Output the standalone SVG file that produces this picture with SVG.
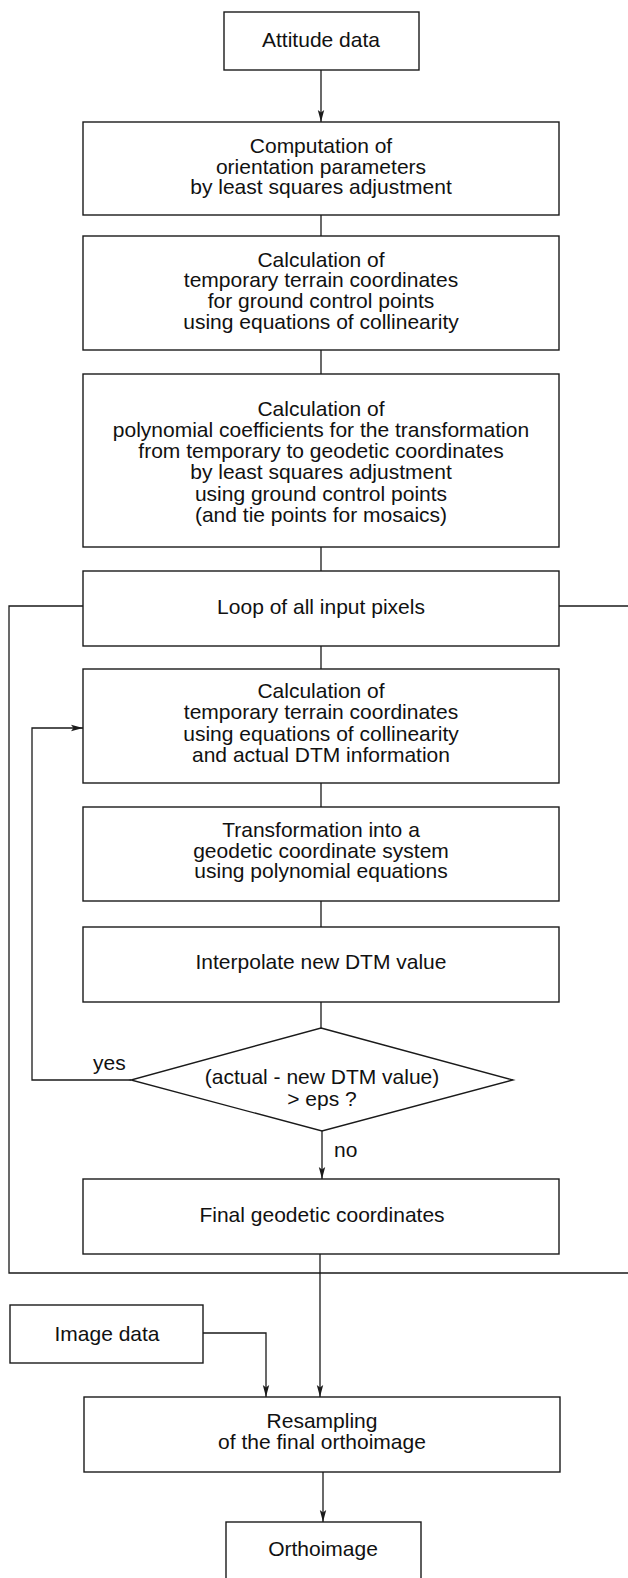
<svg xmlns="http://www.w3.org/2000/svg" width="628" height="1578" viewBox="0 0 628 1578">
  <style>
    .box { fill: #fff; stroke: #1a1a1a; stroke-width: 1.4; }
    .wire { fill: none; stroke: #1a1a1a; stroke-width: 1.3; }
    text { font-family: "Liberation Sans", Arial, sans-serif; font-size: 21px; fill: #111; text-anchor: middle; }
    .lbl { text-anchor: start; }
  </style>
  <defs>
    <marker id="arrow" viewBox="0 0 12 8" refX="12" refY="4" markerWidth="12" markerHeight="8" markerUnits="userSpaceOnUse" orient="auto">
      <path d="M0,0.8 L12,4 L0,7.2 L2.5,4 Z" fill="#1a1a1a"/>
    </marker>
  </defs>
  <rect width="628" height="1578" fill="#fff"/>

  <!-- connectors -->
  <g id="connectors">
    <line class="wire" x1="321" y1="70" x2="321" y2="122" marker-end="url(#arrow)"/>
    <line class="wire" x1="321" y1="215" x2="321" y2="236"/>
    <line class="wire" x1="321" y1="350" x2="321" y2="374"/>
    <line class="wire" x1="321" y1="547" x2="321" y2="571"/>
    <line class="wire" x1="321" y1="646" x2="321" y2="669"/>
    <line class="wire" x1="321" y1="783" x2="321" y2="807"/>
    <line class="wire" x1="321" y1="901" x2="321" y2="927"/>
    <line class="wire" x1="321" y1="1002" x2="321" y2="1028"/>
    <!-- outer pixel loop -->
    <polyline class="wire" points="83,606 9,606 9,1273 629,1273"/>
    <line class="wire" x1="559" y1="606" x2="629" y2="606"/>
    <!-- iteration loop (yes branch) -->
    <polyline class="wire" points="131,1080 32,1080 32,728 83,728" marker-end="url(#arrow)"/>
    <!-- no branch -->
    <line class="wire" x1="322" y1="1131" x2="322" y2="1179" marker-end="url(#arrow)"/>
    <line class="wire" x1="320" y1="1254" x2="320" y2="1397" marker-end="url(#arrow)"/>
    <polyline class="wire" points="203,1333 266,1333 266,1397" marker-end="url(#arrow)"/>
    <line class="wire" x1="323" y1="1472" x2="323" y2="1522" marker-end="url(#arrow)"/>
    <text class="lbl" x="93" y="1070">yes</text>
    <text class="lbl" x="334" y="1157">no</text>
  </g>

  <g id="attitude-data">
    <rect class="box" x="224" y="12" width="195" height="58"/>
    <text x="321" y="47">Attitude data</text>
  </g>

  <g id="orientation-parameters">
    <rect class="box" x="83" y="122" width="476" height="93"/>
    <text x="321" y="153">Computation of</text>
    <text x="321" y="174">orientation parameters</text>
    <text x="321" y="194">by least squares adjustment</text>
  </g>

  <g id="gcp-terrain-coordinates">
    <rect class="box" x="83" y="236" width="476" height="114"/>
    <text x="321" y="267">Calculation of</text>
    <text x="321" y="287">temporary terrain coordinates</text>
    <text x="321" y="308">for ground control points</text>
    <text x="321" y="329">using equations of collinearity</text>
  </g>

  <g id="polynomial-coefficients">
    <rect class="box" x="83" y="374" width="476" height="173"/>
    <text x="321" y="416">Calculation of</text>
    <text x="321" y="437">polynomial coefficients for the transformation</text>
    <text x="321" y="458">from temporary to geodetic coordinates</text>
    <text x="321" y="479">by least squares adjustment</text>
    <text x="321" y="501">using ground control points</text>
    <text x="321" y="522">(and tie points for mosaics)</text>
  </g>

  <g id="pixel-loop">
    <rect class="box" x="83" y="571" width="476" height="75"/>
    <text x="321" y="614">Loop of all input pixels</text>
  </g>

  <g id="pixel-terrain-coordinates">
    <rect class="box" x="83" y="669" width="476" height="114"/>
    <text x="321" y="698">Calculation of</text>
    <text x="321" y="719">temporary terrain coordinates</text>
    <text x="321" y="741">using equations of collinearity</text>
    <text x="321" y="762">and actual DTM information</text>
  </g>

  <g id="geodetic-transformation">
    <rect class="box" x="83" y="807" width="476" height="94"/>
    <text x="321" y="837">Transformation into a</text>
    <text x="321" y="858">geodetic coordinate system</text>
    <text x="321" y="878">using polynomial equations</text>
  </g>

  <g id="interpolate-dtm">
    <rect class="box" x="83" y="927" width="476" height="75"/>
    <text x="321" y="969">Interpolate new DTM value</text>
  </g>

  <g id="dtm-check">
    <polygon class="box" points="321,1028 513,1080 322,1131 131,1080"/>
    <text x="322" y="1084">(actual - new DTM value)</text>
    <text x="322" y="1106">&gt; eps ?</text>
  </g>

  <g id="final-coordinates">
    <rect class="box" x="83" y="1179" width="476" height="75"/>
    <text x="322" y="1222">Final geodetic coordinates</text>
  </g>

  <g id="image-data">
    <rect class="box" x="10" y="1305" width="193" height="58"/>
    <text x="107" y="1341">Image data</text>
  </g>

  <g id="resampling">
    <rect class="box" x="84" y="1397" width="476" height="75"/>
    <text x="322" y="1428">Resampling</text>
    <text x="322" y="1449">of the final orthoimage</text>
  </g>

  <g id="orthoimage">
    <rect class="box" x="226" y="1522" width="195" height="70"/>
    <text x="323" y="1556">Orthoimage</text>
  </g>
</svg>
